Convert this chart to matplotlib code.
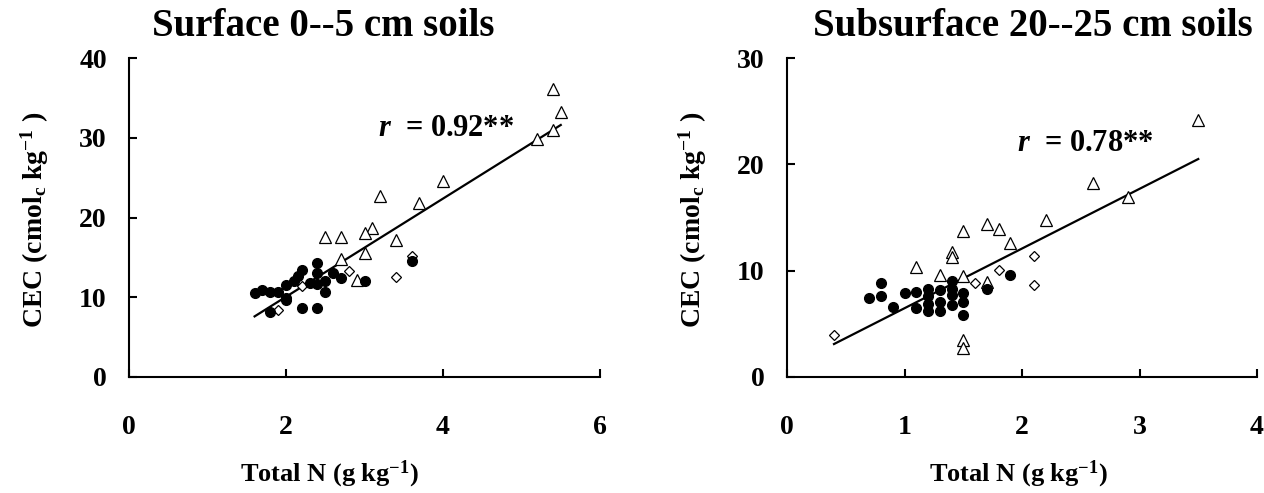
import matplotlib
matplotlib.use('Agg')
import matplotlib.pyplot as plt

# Surface 0--5 cm soils
surf_circle_x = [1.6, 1.7, 1.8, 1.9, 2.0, 2.0, 1.8, 2.0, 2.1, 2.15, 2.2, 2.2, 2.3, 2.4, 2.4,
                 2.4, 2.4, 2.5, 2.5, 2.6, 2.7, 3.0, 3.6]
surf_circle_y = [10.5, 10.9, 10.6, 10.6, 9.6, 9.9, 8.2, 11.5, 12.1, 12.7, 13.4, 8.6, 11.8, 14.3, 13.1,
                 11.7, 8.6, 12.1, 10.7, 13.0, 12.4, 12.1, 14.5]
surf_tri_x = [5.4, 5.5, 5.4, 5.2, 4.0, 3.2, 3.7, 3.1, 3.0, 2.5, 2.7, 3.4, 3.0, 2.7, 2.9]
surf_tri_y = [36.1, 33.2, 31.0, 29.8, 24.6, 22.7, 21.8, 18.7, 18.0, 17.5, 17.5, 17.2, 15.6, 14.8, 12.2]
surf_dia_x = [3.6, 2.8, 3.4, 1.9, 2.2]
surf_dia_y = [15.2, 13.3, 12.5, 8.4, 11.4]
surf_fit_x = [1.6, 5.5]
surf_fit_y = [7.6, 31.6]

# Subsurface 20--25 cm soils
sub_circle_x = [1.9, 1.7, 0.8, 0.7, 0.8, 0.9, 1.0, 1.1, 1.1, 1.2, 1.2, 1.2, 1.2, 1.3, 1.3,
                1.3, 1.4, 1.4, 1.4, 1.4, 1.5, 1.5, 1.5]
sub_circle_y = [9.6, 8.3, 8.8, 7.4, 7.6, 6.6, 7.9, 8.0, 6.5, 8.3, 7.6, 6.9, 6.2, 8.2, 7.1,
                6.2, 9.0, 8.3, 7.7, 6.8, 7.9, 7.1, 5.8]
sub_tri_x = [3.5, 2.6, 2.9, 2.2, 1.5, 1.7, 1.8, 1.9, 1.4, 1.4, 1.1, 1.3, 1.5, 1.7, 1.5, 1.5]
sub_tri_y = [24.2, 18.2, 16.9, 14.8, 13.7, 14.4, 13.9, 12.6, 11.8, 11.3, 10.3, 9.6, 9.5, 8.9, 3.5, 2.7]
sub_dia_x = [0.4, 1.6, 1.8, 2.1, 2.1]
sub_dia_y = [3.95, 8.8, 10.1, 11.4, 8.65]
sub_fit_x = [0.4, 3.5]
sub_fit_y = [3.1, 20.5]

plt.rcParams['font.family'] = 'Liberation Serif'
plt.rcParams['font.weight'] = 'bold'
plt.rcParams['mathtext.fontset'] = 'custom'
plt.rcParams['mathtext.rm'] = 'Liberation Serif:bold'
plt.rcParams['mathtext.bf'] = 'Liberation Serif:bold'
plt.rcParams['mathtext.it'] = 'Liberation Serif:italic:bold'

W, H = 1264, 493
fig = plt.figure(figsize=(W / 100, H / 100), dpi=100)


def px(x0, y0, x1, y1):
    return [x0 / W, 1 - y1 / H, (x1 - x0) / W, (y1 - y0) / H]


def panel(rect, cx, cy, tx, ty, dx, dy, fx, fy, xmax, xticks, ymax, yticks, rtext, rpos):
    ax = fig.add_axes(rect)
    ax.plot(fx, fy, color='black', lw=1.6, zorder=2)
    ax.plot(tx, ty, '^', ms=8.5, mfc='white', mec='black', mew=0.9, ls='none', zorder=3)
    ax.plot(dx, dy, 'D', ms=5.6, mfc='white', mec='black', mew=0.9, ls='none', zorder=3)
    ax.plot(cx, cy, 'o', ms=7, color='black', ls='none', zorder=4)
    ax.set_xlim(0, xmax)
    ax.set_ylim(0, ymax)
    ax.set_xticks(xticks)
    ax.set_yticks(yticks)
    for s in ['top', 'right']:
        ax.spines[s].set_visible(False)
    for s in ['left', 'bottom']:
        ax.spines[s].set_linewidth(1.5)
    ax.tick_params(direction='in', length=6, width=1.5, labelsize=20)
    ax.tick_params(axis='x', pad=27)
    ax.tick_params(axis='y', pad=16)
    ax.text(rpos[0], rpos[1], rtext, fontsize=22, va='center', ha='left')
    return ax


panel(px(129, 58, 600, 377), surf_circle_x, surf_circle_y, surf_tri_x, surf_tri_y,
      surf_dia_x, surf_dia_y, surf_fit_x, surf_fit_y, 6, [0, 2, 4, 6], 40, [0, 10, 20, 30, 40],
      r'$\mathit{r}$  = 0.92**', (3.17, 31.2))
panel(px(787, 58, 1257, 377), sub_circle_x, sub_circle_y, sub_tri_x, sub_tri_y,
      sub_dia_x, sub_dia_y, sub_fit_x, sub_fit_y, 4, [0, 1, 2, 3, 4], 30, [0, 10, 20, 30],
      r'$\mathit{r}$  = 0.78**', (1.96, 22.0))

fig.text(323 / W, 1 - 27 / H, 'Surface 0--5 cm soils', fontsize=28, ha='center', va='center')
fig.text(1033 / W, 1 - 27 / H, 'Subsurface 20--25 cm soils', fontsize=28, ha='center', va='center')

ylab = r'CEC (cmol$_{\mathrm{c}}$ kg$^{\mathrm{-1}}$ )'
fig.text(35 / W, 1 - 220 / H, ylab, fontsize=20, rotation=90, ha='center', va='center')
fig.text(693 / W, 1 - 220 / H, ylab, fontsize=20, rotation=90, ha='center', va='center')

xlab = r'Total N (g kg$^{\mathrm{-1}}$)'
fig.text(329 / W, 1 - 474 / H, xlab, fontsize=19, ha='center', va='center')
fig.text(1018 / W, 1 - 474 / H, xlab, fontsize=19, ha='center', va='center')

fig.savefig('out.png', dpi=100)
